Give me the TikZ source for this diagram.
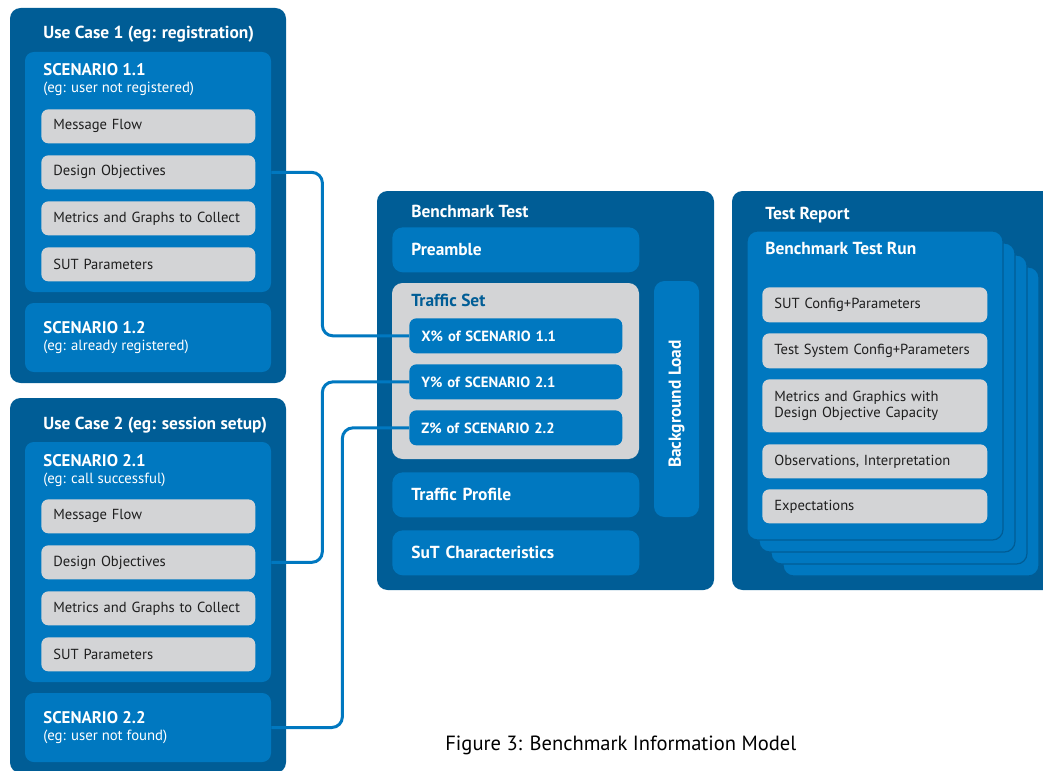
\documentclass[tikz,border=0pt]{standalone}
\usepackage{fontspec}
\setmainfont{PT Sans}
\usetikzlibrary{fit,positioning}

\definecolor{panelblue}{HTML}{005D96}
\definecolor{boxblue}{HTML}{0078C0}
\definecolor{itemgrey}{HTML}{D3D4D6}
\definecolor{itemtext}{HTML}{1E1E1E}

\tikzset{
  outerbox/.style={fill=panelblue, rounded corners=6pt, inner sep=0pt},
  bluebox/.style={fill=boxblue, rounded corners=5pt, inner sep=0pt},
  card/.style={fill=boxblue, draw=panelblue, line width=0.7pt, rounded corners=6pt, inner sep=0pt},
  greyitem/.style={fill=itemgrey, rounded corners=4pt, text=itemtext,
    font=\fontsize{8.3}{9.6}\selectfont, align=left, text width=3.8cm,
    inner xsep=0.24cm, inner ysep=0pt, minimum height=0.68cm, anchor=north west},
  repitem/.style={greyitem, text width=4.02cm},
  mixbox/.style={fill=boxblue, rounded corners=4pt, text=white,
    font=\bfseries\fontsize{8.4}{10}\selectfont, align=left, text width=3.78cm,
    inner xsep=0.24cm, inner ysep=0pt, minimum height=0.7cm, anchor=north west},
  partbox/.style={fill=boxblue, rounded corners=6pt, text=white,
    font=\bfseries\fontsize{9.9}{11}\selectfont, align=left, text width=4.18cm,
    inner xsep=0.38cm, inner ysep=0pt, minimum height=0.9cm, anchor=north west},
  headtext/.style={text=white, font=\bfseries\fontsize{9.9}{11}\selectfont, anchor=base west, inner sep=0pt},
  subtext/.style={text=white, font=\fontsize{8.4}{9.6}\selectfont, anchor=base west, inner sep=0pt},
  link/.style={draw=boxblue, line width=1.7pt, rounded corners=6pt}
}

\begin{document}
\begin{tikzpicture}[x=0.02cm, y=-0.02cm]
    \useasboundingbox (0,0) rectangle (1043,770);
    \clip (0,0) rectangle (1043,770);

    % Use cases with their scenarios
    \foreach \u/\dy/\ucname/\sa/\sb in {1/0/registration/user not registered/already registered,
                                        2/390/session setup/call successful/user not found} {
        \node[outerbox, fit={(10,8+\dy) (286,383+\dy)}] (uc\u) {};
        \node[headtext] (uct\u) at (43,39+\dy) {Use Case \u\ (eg: \ucname)};
        \node[bluebox, fit={(25,52+\dy) (271,292+\dy)}] (sc\u1) {};
        \node[headtext, font=\bfseries\fontsize{9.6}{11}\selectfont] (sct\u1) at (43,76+\dy) {SCENARIO \u.1};
        \node[subtext] (scs\u1) at (43,93+\dy) {(eg: \sa)};
        \foreach \k/\txt in {0/Message Flow, 1/Design Objectives, 2/Metrics and Graphs to Collect, 3/SUT Parameters}
            \node[greyitem] (it\u\k) at (41,109+46*\k+\dy) {\txt};
        \node[bluebox, fit={(25,303+\dy) (271,372+\dy)}] (sc\u2) {};
        \node[headtext, font=\bfseries\fontsize{9.6}{11}\selectfont] (sct\u2) at (43,333+\dy) {SCENARIO \u.2};
        \node[subtext] (scs\u2) at (43,350+\dy) {(eg: \sb)};
    }

    % Benchmark test
    \node[outerbox, fit={(377,191) (714,590)}] (bench) {};
    \node[headtext] (bencht) at (411,217) {Benchmark Test};
    \node[partbox] (pre) at (392,227) {Preamble};
    \node[fill=itemgrey, rounded corners=6pt, inner sep=0pt, fit={(392,283) (639,459)}] (tset) {};
    \node[headtext, text=panelblue] (tsett) at (411,306) {Traffic Set};
    \node[mixbox] (xs) at (409,318) {X\% of SCENARIO 1.1};
    \node[mixbox] (ys) at (409,364) {Y\% of SCENARIO 2.1};
    \node[mixbox] (zs) at (409,410) {Z\% of SCENARIO 2.2};
    \node[partbox] (prof) at (392,472) {Traffic Profile};
    \node[partbox] (sut) at (392,530) {SuT Characteristics};
    \node[bluebox, rounded corners=6pt, fit={(654,281) (699,517)}] (bg) {};
    \node[headtext, anchor=center, rotate=90] (bgt) at ([yshift=-0.1cm]bg.center) {Background Load};

    % Test report with stacked runs
    \node[outerbox, fit={(732,191) (1070,590)}] (rep) {};
    \node[headtext] (rept) at (765,219) {Test Report};
    \foreach \k in {3,2,1}
        \draw[card] (747+12*\k,231+12*\k) rectangle ++(256,309);
    \node[card, fit={(747,231) (1003,540)}] (run) {};
    \node[headtext] (runt) at (765,254) {Benchmark Test Run};
    \foreach \y/\h/\txt/\nm in {287/0.7/SUT Config+Parameters/ri1,
                                333/0.7/Test System Config+Parameters/ri2,
                                379/1.06/{Metrics and Graphics with\\Design Objective Capacity}/ri3,
                                444/0.68/{Observations, Interpretation}/ri4,
                                489/0.68/Expectations/ri5}
        \node[repitem, minimum height=\h cm] (\nm) at (762,\y) {\txt};

    % Connectors
    \draw[link] (it11.east -| sc11.east) -- ++(51,0) |- (xs.west);
    \draw[link] (it21.east -| sc21.east) -- ++(51,0) |- (ys.west);
    \draw[link] (sc22.east) -- ++(71,0) |- (zs.west);

    \node[anchor=west, inner sep=0pt, font=\fontsize{11.7}{13}\selectfont] (caption) at (445,745) {Figure 3: Benchmark Information Model};
\end{tikzpicture}
\end{document}
